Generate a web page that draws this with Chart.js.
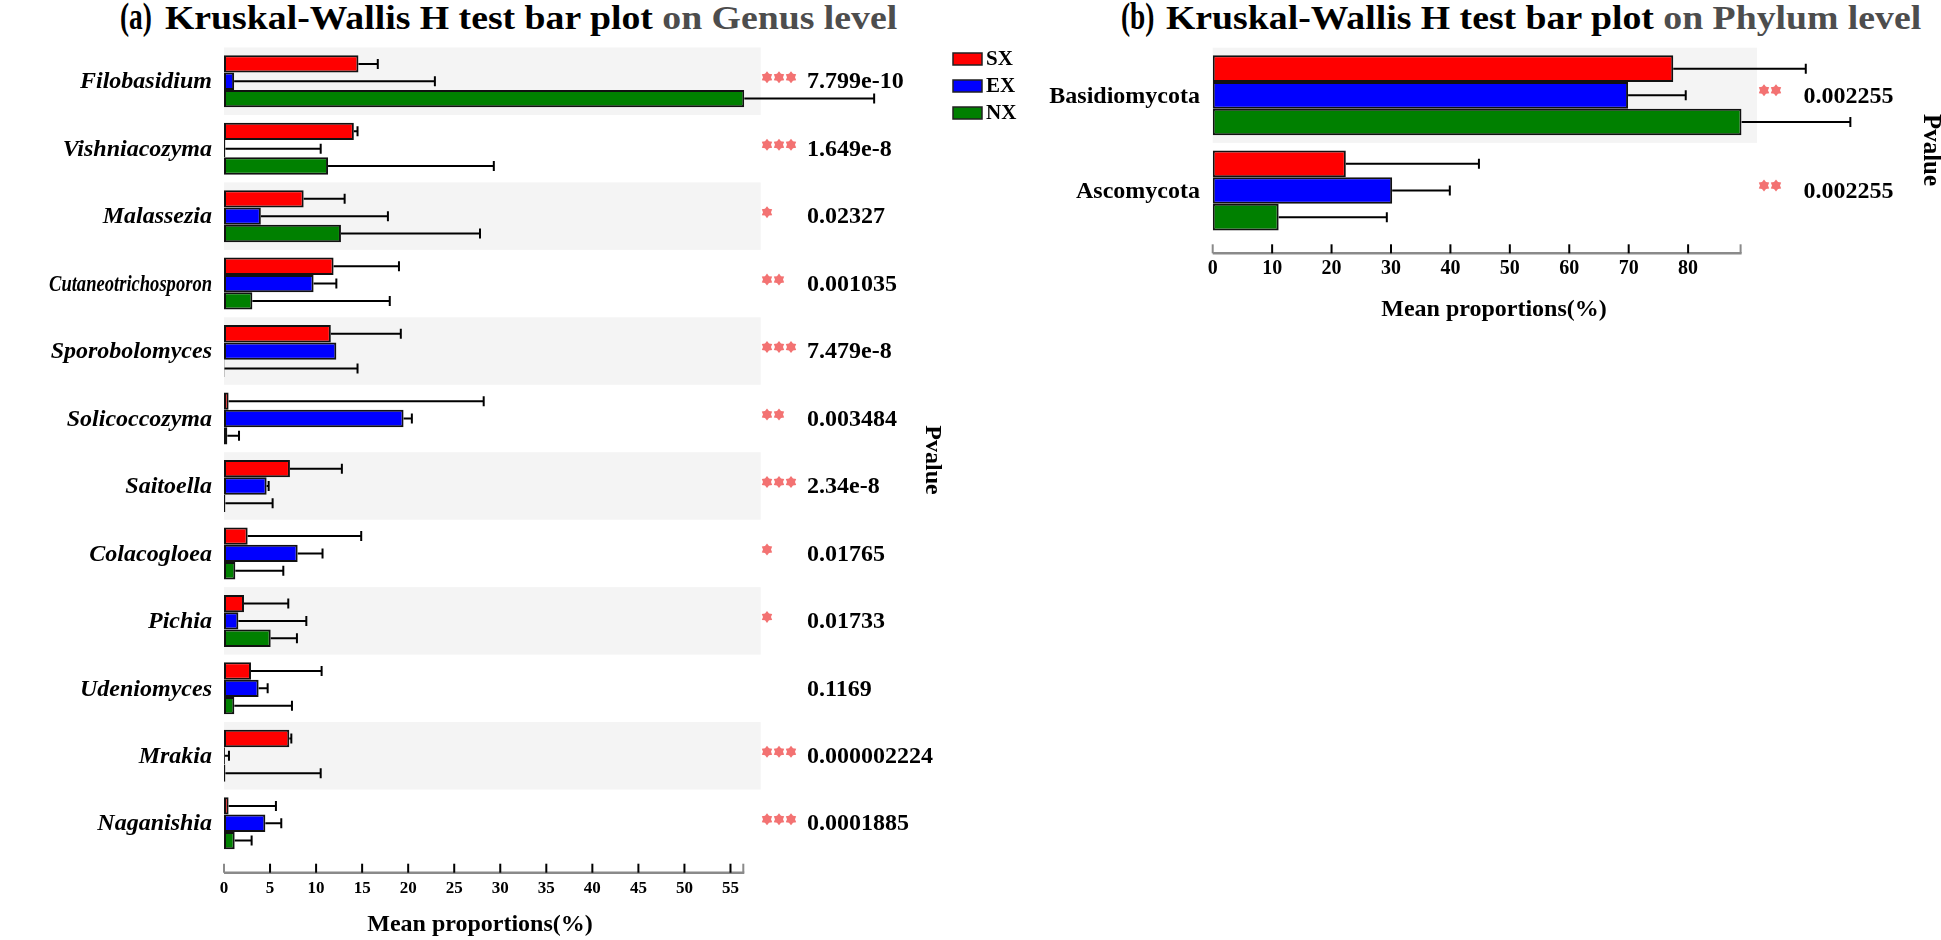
<!DOCTYPE html>
<html><head><meta charset="utf-8">
<script src="https://cdn.jsdelivr.net/npm/chart.js@4.4.1/dist/chart.umd.min.js"></script>
<style>
html,body{margin:0;padding:0;background:#fff;width:1941px;height:940px;overflow:hidden;}
canvas{position:absolute;top:0;}
#ca{left:0;}
#cb{left:1040px;}
.t{position:absolute;font-family:"Liberation Serif","Times New Roman",serif;font-weight:bold;white-space:nowrap;line-height:1;color:#000;transform-origin:0 0;}
.lab{font-size:37px;top:-2px;transform:scaleX(0.74);}
.main{font-size:34px;top:1px;transform:scaleX(1.11);}
</style></head><body>
<div class="t lab" style="left:120px">(a)</div>
<div class="t main" style="left:165px">Kruskal-Wallis H test bar plot <span style="color:#4d4d4d">on Genus level</span></div>
<div class="t lab" style="left:1121px">(b)</div>
<div class="t main" style="left:1166px">Kruskal-Wallis H test bar plot <span style="color:#4d4d4d">on Phylum level</span></div>
<canvas id="ca" width="1040" height="940"></canvas>
<canvas id="cb" width="901" height="340"></canvas>
<script>
// ---------- data ----------
const groups = ['SX', 'EX', 'NX'];
const groupColors = ['#ff0000', '#0000ff', '#008000'];

const genera = ['Filobasidium', 'Vishniacozyma', 'Malassezia', 'Cutaneotrichosporon', 'Sporobolomyces',
  'Solicoccozyma', 'Saitoella', 'Colacogloea', 'Pichia', 'Udeniomyces', 'Mrakia', 'Naganishia'];
const genusSX = [14.6, 14.1, 8.65, 11.9, 11.6, 0.5, 7.16, 2.57, 2.17, 2.93, 7.09, 0.5];
const genusEX = [1.1, 0.15, 4.0, 9.73, 12.2, 19.5, 4.63, 8.0, 1.56, 3.76, 0.1, 4.49];
const genusNX = [56.5, 11.3, 12.7, 3.08, 0.05, 0.36, 0.15, 1.23, 5.07, 1.12, 0.15, 1.16];
const genusSXsd = [2.1, 0.4, 4.45, 7.1, 7.6, 27.7, 5.64, 12.33, 4.81, 7.67, 0.22, 5.14];
const genusEXsd = [21.8, 10.35, 13.8, 2.47, 0, 0.9, 0.22, 2.7, 7.38, 0.98, 0.44, 1.73];
const genusNXsd = [14.1, 18.0, 15.1, 14.92, 14.45, 1.27, 5.13, 5.21, 2.85, 6.26, 10.35, 1.84];
const genusP = ['7.799e-10', '1.649e-8', '0.02327', '0.001035', '7.479e-8', '0.003484', '2.34e-8',
  '0.01765', '0.01733', '0.1169', '0.000002224', '0.0001885'];
const genusStars = ['***', '***', '*', '**', '***', '**', '***', '*', '*', '', '***', '***'];
const genusAxisMax = 56.5;

const phyla = ['Basidiomycota', 'Ascomycota'];
const phylumSX = [77.5, 22.4];
const phylumEX = [69.9, 30.2];
const phylumNX = [89.0, 11.1];
const phylumSXsd = [22.3, 22.4];
const phylumEXsd = [9.7, 9.7];
const phylumNXsd = [18.3, 18.2];
const phylumP = ['0.002255', '0.002255'];
const phylumStars = ['**', '**'];
const phylumAxisMax = 89;

const xTitle = 'Mean proportions(%)';
const pTitle = 'Pvalue';
// ---------- end data ----------

const SERIF = '"Liberation Serif","Times New Roman",serif';

function drawStar(ctx, cx, cy, rOut, rIn, n) {
  ctx.beginPath();
  for (let k = 0; k < 2 * n; k++) {
    const r = k % 2 === 0 ? rOut : rIn;
    const ang = -Math.PI / 2 + k * Math.PI / n;
    const px = cx + r * Math.cos(ang), py = cy + r * Math.sin(ang);
    if (k === 0) ctx.moveTo(px, py); else ctx.lineTo(px, py);
  }
  ctx.closePath();
  ctx.fill();
}

const deco = {
  id: 'deco',
  beforeDatasetsDraw(chart, args, o) {
    const {ctx, chartArea: a, scales: {y}} = chart;
    const half = (y.getPixelForValue(1) - y.getPixelForValue(0)) / 2;
    ctx.save();
    ctx.fillStyle = '#f4f4f4';
    o.bandRows.forEach(i => {
      const c = y.getPixelForValue(i);
      ctx.fillRect(a.left, c - half, o.bandRight - a.left, 2 * half);
    });
    ctx.restore();
  },
  afterDatasetsDraw(chart, args, o) {
    const {ctx, chartArea: a, scales: {x, y}} = chart;
    ctx.save();
    // error bars
    ctx.strokeStyle = '#000';
    ctx.lineWidth = 2;
    chart.data.datasets.forEach((ds, di) => {
      const meta = chart.getDatasetMeta(di);
      meta.data.forEach((el, j) => {
        const e = ds.errors[j];
        if (!(e > 0)) return;
        const end = x.getPixelForValue(ds.data[j] + e);
        ctx.beginPath();
        ctx.moveTo(el.x, el.y); ctx.lineTo(end, el.y);
        ctx.moveTo(end, el.y - o.cap); ctx.lineTo(end, el.y + o.cap);
        ctx.stroke();
      });
    });
    // category labels (from the y scale)
    ctx.fillStyle = '#000';
    ctx.textAlign = 'right'; ctx.textBaseline = 'middle';
    ctx.font = o.labelFont;
    chart.data.labels.forEach((lab, i) => {
      ctx.fillText(lab, o.labelRight, y.getPixelForValue(i) + 1, o.labelMaxW);
    });
    // x axis line + ticks (offset below the plot area)
    const ay = a.bottom + o.axisGap;
    ctx.strokeStyle = '#8a8a8a';
    ctx.lineWidth = 2.5;
    ctx.beginPath(); ctx.moveTo(a.left, ay); ctx.lineTo(a.right, ay); ctx.stroke();
    ctx.lineWidth = 2;
    x.ticks.forEach((t, k) => {
      const px = x.getPixelForValue(t.value);
      ctx.strokeStyle = k === 0 ? '#8a8a8a' : '#000';
      ctx.beginPath(); ctx.moveTo(px, ay); ctx.lineTo(px, ay - 9); ctx.stroke();
    });
    ctx.strokeStyle = '#8a8a8a';
    ctx.beginPath(); ctx.moveTo(a.right - 1, ay); ctx.lineTo(a.right - 1, ay - 9); ctx.stroke();
    // axis title
    ctx.fillStyle = '#000';
    ctx.textAlign = 'center'; ctx.textBaseline = 'middle';
    ctx.font = 'bold ' + o.titleSize + 'px ' + SERIF;
    ctx.fillText(xTitle, o.titleX, o.titleY);
    // stars + p-values
    o.pvals.forEach((p, i) => {
      const c = y.getPixelForValue(i);
      ctx.font = 'bold ' + o.pSize + 'px ' + SERIF;
      ctx.fillStyle = '#000';
      ctx.textAlign = 'left'; ctx.textBaseline = 'middle';
      ctx.fillText(p, o.pX, c + 1);
      ctx.fillStyle = '#f37272';
      for (let k = 0; k < o.stars[i].length; k++) {
        drawStar(ctx, o.starX + k * 12, c + o.starDY, 6, 4, 6);
      }
    });
    // rotated "Pvalue"
    ctx.save();
    ctx.translate(o.pvX, o.pvY);
    ctx.rotate(Math.PI / 2);
    ctx.fillStyle = '#000';
    ctx.font = 'bold ' + o.pvSize + 'px ' + SERIF;
    ctx.textAlign = 'center'; ctx.textBaseline = 'middle';
    ctx.fillText(pTitle, 0, 0);
    ctx.restore();
    // legend
    if (o.legend) {
      chart.data.datasets.forEach((ds, di) => {
        const ly = o.legend.ys[di];
        ctx.fillStyle = ds.backgroundColor;
        ctx.fillRect(o.legend.x, ly - 6, 29, 12);
        ctx.strokeStyle = '#222'; ctx.lineWidth = 1.5;
        ctx.strokeRect(o.legend.x, ly - 6, 29, 12);
        ctx.fillStyle = '#000';
        ctx.font = 'bold 21px ' + SERIF;
        ctx.textAlign = 'left'; ctx.textBaseline = 'middle';
        ctx.fillText(ds.label, o.legend.x + 33, ly + 1);
      });
    }
    ctx.restore();
  }
};

function makeDatasets(means, sds, catPct) {
  return groups.map((g, i) => ({
    label: g,
    data: means[i],
    errors: sds[i],
    backgroundColor: groupColors[i],
    borderColor: '#111',
    borderWidth: 2,
    borderSkipped: false,
    categoryPercentage: catPct,
    barPercentage: 1.0
  }));
}

function makeChart(canvasId, labels, datasets, cfg) {
  return new Chart(document.getElementById(canvasId), {
    type: 'bar',
    data: {labels, datasets},
    plugins: [deco],
    options: {
      indexAxis: 'y',
      responsive: false,
      animation: false,
      devicePixelRatio: 1,
      layout: {padding: cfg.padding},
      plugins: {legend: {display: false}, tooltip: {enabled: false}, deco: cfg.deco},
      scales: {
        y: {
          type: 'category',
          grid: {display: false, drawTicks: false},
          border: {display: false},
          ticks: {display: false},
          afterFit: s => { s.width = cfg.yWidth; }
        },
        x: {
          type: 'linear', min: 0, max: cfg.xMax,
          grid: {display: false, drawTicks: false},
          border: {display: false},
          ticks: {stepSize: cfg.xStep, includeBounds: false, color: '#000', padding: cfg.xPad,
                  font: {family: SERIF, size: cfg.xSize, weight: 'bold'}},
          afterFit: s => { s.height = cfg.xHeight; }
        }
      }
    }
  });
}

makeChart('ca', genera,
  makeDatasets([genusSX, genusEX, genusNX], [genusSXsd, genusEXsd, genusNXsd], 0.771),
  {
    padding: {left: 0, top: 47.5, right: 1040 - 744.3, bottom: 0},
    yWidth: 224, xHeight: 83, xPad: 21, xSize: 17, xMax: genusAxisMax, xStep: 5,
    deco: {
      labelFont: 'italic bold 24px ' + SERIF, labelRight: 212, labelMaxW: 163,
      bandRows: [0, 2, 4, 6, 8, 10], bandRight: 760.7, axisGap: 15.7, cap: 5,
      pvals: genusP, stars: genusStars, pX: 807, pSize: 24, starX: 767, starDY: -4,
      pvX: 932, pvY: 460, pvSize: 24,
      titleX: 480, titleY: 925, titleSize: 24,
      legend: {x: 953, ys: [59, 86, 113]}
    }
  });

makeChart('cb', phyla,
  makeDatasets([phylumSX, phylumEX, phylumNX], [phylumSXsd, phylumEXsd, phylumNXsd], 0.84),
  {
    padding: {left: 0, top: 47.7, right: 901 - 701.6, bottom: 0},
    yWidth: 172.7, xHeight: 340 - 238.1, xPad: 19, xSize: 20, xMax: phylumAxisMax, xStep: 10,
    deco: {
      labelFont: 'bold 24px ' + SERIF, labelRight: 160, labelMaxW: 400,
      bandRows: [0], bandRight: 717, axisGap: 15.2, cap: 5,
      pvals: phylumP, stars: phylumStars, pX: 763.5, pSize: 24, starX: 724, starDY: -5,
      pvX: 890, pvY: 150, pvSize: 25,
      titleX: 454, titleY: 310, titleSize: 24,
      legend: null
    }
  });
</script>
</body></html>
